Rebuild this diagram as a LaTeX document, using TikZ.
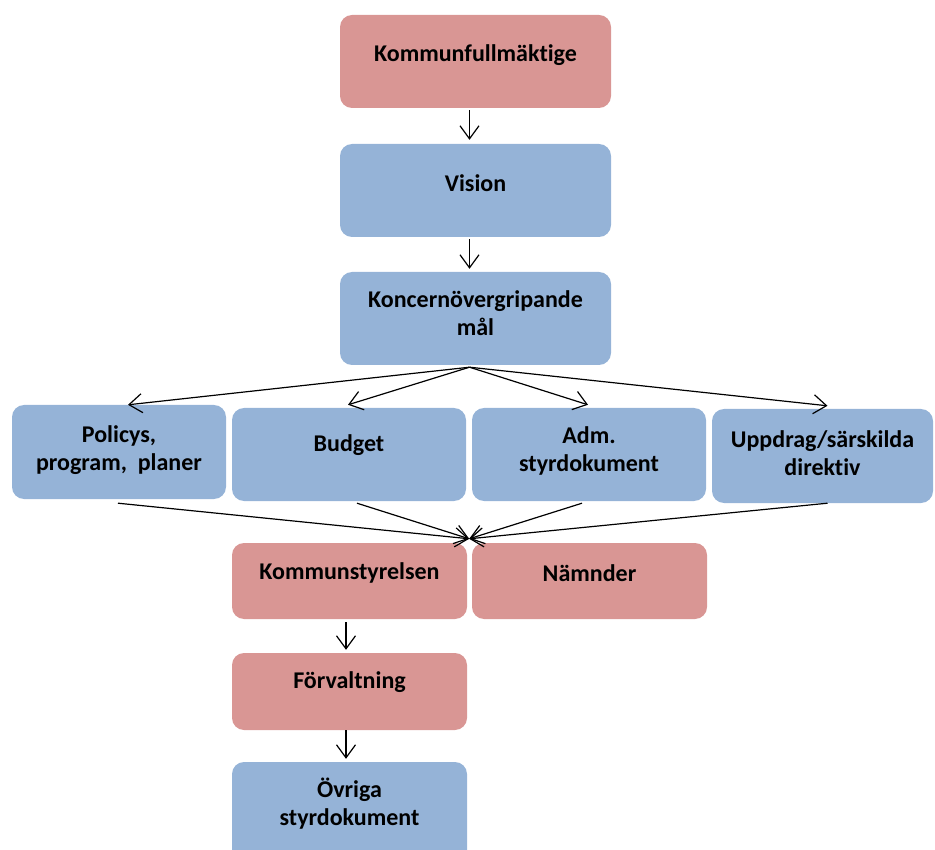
\documentclass[tikz,border=0pt]{standalone}
\usepackage{fontspec}
\setmainfont{Carlito}[Ligatures=NoCommon]
\usetikzlibrary{arrows.meta, positioning}
\definecolor{organpink}{RGB}{217, 150, 148}
\definecolor{docblue}{RGB}{149, 179, 215}

\begin{document}
\begin{tikzpicture}[x=1pt, y=-1pt,
  pinkbox/.style={fill=organpink, rounded corners=12pt, inner sep=0pt},
  bluebox/.style={fill=docblue, rounded corners=12pt, inner sep=0pt},
  boxtext/.style={font=\fontsize{24}{28}\selectfont\bfseries, align=center, text=black},
  flow/.style={-{Straight Barb[length=13pt, width=19pt]}, line width=1.2pt}]

  \clip (0,0) rectangle (935,850);

  % Top chain
  \node[pinkbox, minimum width=271pt, minimum height=93pt,
    label={[boxtext, yshift=6.5pt]center:Kommunfullmäktige}] (fullmaktige) at (475.5, 61.5) {};
  \node[bluebox, minimum width=271pt, minimum height=93pt,
    label={[boxtext, yshift=7.5pt]center:Vision}] (vision) at (475.5, 190.5) {};
  \node[bluebox, minimum width=271pt, minimum height=93pt,
    label={[boxtext, yshift=5pt]center:{Koncernövergripande\\mål}}] (koncernmal) at (475.5, 318.5) {};

  % Steering documents
  \node[bluebox, minimum width=214pt, minimum height=94pt,
    label={[boxtext, yshift=2pt]center:{Policys,\\program,~ planer}}] (policys) at (119, 452) {};
  \node[bluebox, minimum width=234pt, minimum height=93pt,
    label={[boxtext, yshift=9pt]center:Budget}] (budget) at (349, 454.5) {};
  \node[bluebox, minimum width=234pt, minimum height=93pt,
    label={[boxtext, yshift=4pt]center:{Adm.\\styrdokument}}] (admdok) at (589, 454.5) {};
  \node[bluebox, minimum width=221pt, minimum height=94pt,
    label={[boxtext, yshift=3pt]center:{Uppdrag/särskilda\\direktiv}}] (uppdrag) at (822.5, 456) {};

  % Organisation
  \node[pinkbox, minimum width=235pt, minimum height=76pt,
    label={[boxtext, yshift=8pt]center:Kommunstyrelsen}] (styrelsen) at (349.5, 581) {};
  \node[pinkbox, minimum width=235pt, minimum height=76pt,
    label={[boxtext, yshift=8pt]center:Nämnder}] (namnder) at (589.5, 581) {};
  \node[pinkbox, minimum width=235pt, minimum height=77pt,
    label={[boxtext, yshift=9.5pt]center:Förvaltning}] (forvaltning) at (349.5, 691.5) {};
  \node[bluebox, minimum width=235pt, minimum height=110pt,
    label={[boxtext, yshift=13pt]center:{Övriga\\styrdokument}}] (ovriga) at (349.5, 817) {};

  % Arrows
  \draw[flow] ([xshift=-6pt, yshift=-2pt]fullmaktige.south) -- ([xshift=-6pt, yshift=4pt]vision.north);
  \draw[flow] ([xshift=-6pt, yshift=-2pt]vision.south) -- ([xshift=-6pt, yshift=3pt]koncernmal.north);

  \coordinate (fan) at ([xshift=-6pt, yshift=-2pt]koncernmal.south);
  \draw[flow] (fan) -- ([xshift=9pt]policys.north);
  \draw[flow] (fan) -- ([xshift=-1pt, yshift=3pt]budget.north);
  \draw[flow] (fan) -- ([xshift=-1pt, yshift=3pt]admdok.north);
  \draw[flow] (fan) -- ([xshift=5pt, yshift=3pt]uppdrag.north);

  \coordinate (merge) at ([xshift=2pt, yshift=4pt]styrelsen.north east);
  \draw[flow] ([xshift=-1pt, yshift=-4pt]policys.south) -- (merge);
  \draw[flow] ([xshift=8pt, yshift=-2pt]budget.south) -- (merge);
  \draw[flow] ([xshift=-7pt, yshift=-2pt]admdok.south) -- (merge);
  \draw[flow] ([xshift=5pt]uppdrag.south) -- (merge);

  \draw[flow] ([xshift=-3.5pt, yshift=-3pt]styrelsen.south) -- ([xshift=-3.5pt, yshift=3pt]forvaltning.north);
  \draw[flow] ([xshift=-3.5pt]forvaltning.south) -- ([xshift=-3.5pt, yshift=3pt]ovriga.north);
\end{tikzpicture}
\end{document}
